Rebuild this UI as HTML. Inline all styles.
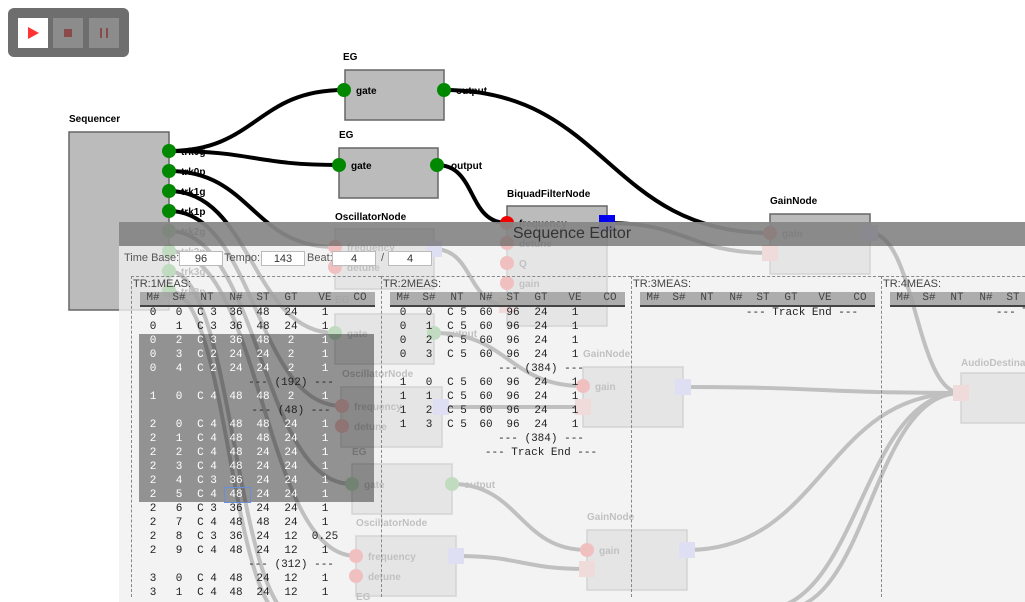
<!DOCTYPE html>
<html><head><meta charset="utf-8">
<style>
html,body{margin:0;padding:0;width:1025px;height:602px;overflow:hidden;background:#fff;font-family:"Liberation Sans",sans-serif;}
#g{position:absolute;left:0;top:0}
#ed{position:absolute;left:119px;top:222px;width:906px;height:380px;background:rgba(240,240,240,0.8);overflow:hidden}
#tb{position:absolute;left:0;top:0;width:906px;height:24px;background:rgba(100,100,100,0.7);color:#333;font-size:16px;text-align:center;line-height:24px}
.lbl{position:absolute;font-size:11px;color:#555;top:30px}
.inp{position:absolute;top:29px;height:15px;border:1px solid #bbb;background:#fff;font-size:11px;color:#333;text-align:center;line-height:15px;box-sizing:border-box}
.trk{position:absolute;top:54px;height:320px;border-left:1px dashed #888;border-top:1px dashed #888}
.tname{position:absolute;left:1px;top:1px;font-size:11px;color:#444}
.hdr{position:absolute;left:8px;top:15px;width:235px;height:13px;background:rgba(160,160,160,0.85);border-bottom:2px solid #444;font-family:"Liberation Mono",monospace;font-size:11px;color:#444;line-height:13px}
.row{position:absolute;left:8px;width:235px;height:14px;font-family:"Liberation Mono",monospace;font-size:11px;color:#222;line-height:14px}
.row span,.hdr span{position:absolute;top:0;text-align:center;white-space:pre}
.sep{position:absolute;width:160px;text-align:center;font-family:"Liberation Mono",monospace;font-size:11px;color:#222;white-space:pre;line-height:14px}
#sel{position:absolute;left:20px;top:112px;width:235px;height:168px;background:rgba(0,0,0,0.4)}
#ctl{position:absolute;left:8px;top:8px;width:121px;height:49px;background:#6e6e6e;border-radius:6px}
.b{position:absolute;top:10px;width:30px;height:30px;background:#8c8c8c}
</style></head><body>
<svg id="g" width="1025" height="602" xmlns="http://www.w3.org/2000/svg"></svg>
<div id="ctl">
 <div class="b" style="left:10px;background:#fff"><svg width="30" height="30"><polygon points="10,9 21,15 10,21" fill="#f33"/></svg></div>
 <div class="b" style="left:45px"><svg width="30" height="30"><rect x="11" y="11" width="8" height="8" fill="#8a4a4a"/></svg></div>
 <div class="b" style="left:81px"><svg width="30" height="30"><rect x="11" y="10" width="2" height="10" fill="#8a4a4a"/><rect x="17" y="10" width="2" height="10" fill="#8a4a4a"/></svg></div>
</div>
<div id="ed">
 <div id="tb">Sequence Editor</div>
 <div class="lbl" style="left:5px">Time Base:</div><div class="inp" style="left:60px;width:44px">96</div>
 <div class="lbl" style="left:105px">Tempo:</div><div class="inp" style="left:142px;width:44px">143</div>
 <div class="lbl" style="left:188px">Beat:</div><div class="inp" style="left:213px;width:44px">4</div>
 <div class="lbl" style="left:262px">/</div><div class="inp" style="left:269px;width:44px">4</div>
 <div id="tracks"></div>
</div>
<script>
var S='http://www.w3.org/2000/svg',g=document.getElementById('g');
function el(n,a,p){var e=document.createElementNS(S,n);for(var k in a)e.setAttribute(k,a[k]);(p||g).appendChild(e);return e;}
function txt(x,y,t,b){var e=el('text',{x:x,y:y,'font-size':10,'font-weight':'bold','font-family':'Liberation Sans, sans-serif',fill:'#000'});e.textContent=t;}
function node(lx,ly,t,x,y,w,h){txt(lx,ly,t);el('rect',{x:x,y:y,width:w,height:h,fill:'#bbb',stroke:'#666','stroke-width':1.5});}
function gp(x,y){el('circle',{cx:x,cy:y,r:7,fill:'#080'});}
function rp(x,y){el('circle',{cx:x,cy:y,r:7,fill:'#e00'});}
function sq(x,y,c){el('rect',{x:x-8,y:y-8,width:16,height:16,fill:c||'#e88'});}
function ln(x1,y1,x2,y2){var d=Math.max(40,Math.abs(x2-x1)/2);el('path',{d:'M'+x1+' '+y1+' C'+(x1+d)+' '+y1+','+(x2-d)+' '+y2+','+x2+' '+y2,stroke:'#000','stroke-width':4,fill:'none'});}
node(69,122,'Sequencer',69,132,100,178);
node(343,60,'EG',345,70,99,50);
node(339,138,'EG',339,148,99,50);
node(507,197,'BiquadFilterNode',507,206,100,120);
node(335,220,'OscillatorNode',335,229,99,60);
node(335,303,'EG',335,314,99,50);
node(342,377,'OscillatorNode',341,387,101,60);
node(352,455,'EG',352,464,100,50);
node(356,526,'OscillatorNode',356,536,100,60);
txt(356,600,'EG');
node(583,357,'GainNode',583,367,100,60);
node(587,520,'GainNode',587,530,100,60);
node(770,204,'GainNode',770,214,100,60);
node(961,366,'AudioDestinationNode',961,373,100,50);
ln(169,151,344,90);ln(169,151,339,165);ln(169,171,335,247);ln(169,191,335,333);
ln(169,211,342,406);ln(169,231,352,484);ln(169,251,356,556);ln(169,271,300,620);ln(169,291,290,620);
ln(444,90,770,233);ln(437,165,507,223);ln(607,223,770,253);ln(434,249,507,305);
ln(434,333,583,386);ln(434,407,583,407);ln(683,387,961,393);ln(452,484,587,550);
ln(456,556,587,569);ln(687,550,961,393);ln(870,233,961,393);ln(760,610,961,393);ln(780,610,961,393);
var tl=['trk0g','trk0p','trk1g','trk1p','trk2g','trk2p','trk3g','trk3p'];
for(var i=0;i<8;i++){gp(169,151+20*i);txt(181,155+20*i,tl[i]);}
gp(344,90);txt(356,94,'gate');gp(444,90);txt(456,94,'output');
gp(339,165);txt(351,169,'gate');gp(437,165);txt(451,169,'output');
rp(507,223);txt(519,227,'frequency');rp(507,243);txt(519,247,'detune');rp(507,263);txt(519,267,'Q');rp(507,283);txt(519,287,'gain');sq(507,305);sq(607,223,'#00e');
rp(335,247);txt(347,251,'frequency');rp(335,267);txt(347,271,'detune');sq(434,249,'#99f');
gp(335,333);txt(347,337,'gate');gp(434,333);txt(446,337,'output');
rp(342,406);txt(354,410,'frequency');rp(342,426);txt(354,430,'detune');sq(441,407,'#99f');
gp(352,484);txt(364,488,'gate');gp(452,484);txt(464,488,'output');
rp(356,556);txt(368,560,'frequency');rp(356,576);txt(368,580,'detune');sq(456,556,'#99f');
rp(583,386);txt(595,390,'gain');sq(583,407);sq(683,387,'#99f');
rp(587,550);txt(599,554,'gain');sq(587,569);sq(687,550,'#99f');
rp(770,233);txt(782,237,'gain');sq(770,253);sq(870,233,'#99f');
sq(961,393);
var W=[26,26,30,28,26,30,38,32],H=['M#','S#','NT','N#','ST','GT','VE','CO'];
function cells(v){var s='',x=0;for(var i=0;i<8;i++){s+='<span style="left:'+x+'px;width:'+W[i]+'px">'+(v[i]||'')+'</span>';x+=W[i];}return s;}
var T=document.getElementById('tracks'),out='<div id="sel"></div>';
var d1=[['0','0','C 3','36','48','24','1'],['0','1','C 3','36','48','24','1'],['0','2','C 3','36','48','2','1'],['0','3','C 2','24','24','2','1'],['0','4','C 2','24','24','2','1'],'--- (192) ---',['1','0','C 4','48','48','2','1'],'--- (48) ---',
['2','0','C 4','48','48','24','1'],['2','1','C 4','48','48','24','1'],['2','2','C 4','48','24','24','1'],['2','3','C 4','48','24','24','1'],['2','4','C 3','36','24','24','1'],['2','5','C 4','48','24','24','1'],['2','6','C 3','36','24','24','1'],['2','7','C 4','48','48','24','1'],['2','8','C 3','36','24','12','0.25'],['2','9','C 4','48','24','12','1'],'--- (312) ---',['3','0','C 4','48','24','12','1'],['3','1','C 4','48','24','12','1']];
var d2=[['0','0','C 5','60','96','24','1'],['0','1','C 5','60','96','24','1'],['0','2','C 5','60','96','24','1'],['0','3','C 5','60','96','24','1'],'--- (384) ---',['1','0','C 5','60','96','24','1'],['1','1','C 5','60','96','24','1'],['1','2','C 5','60','96','24','1'],['1','3','C 5','60','96','24','1'],'--- (384) ---','--- Track End ---'];
var d3=['--- Track End ---'];
var data=[d1,d2,d3,d3];
for(var t=0;t<4;t++){
 var L=12+250*t;
 out+='<div class="trk" style="left:'+L+'px;width:249px"><div class="tname">TR:'+(t+1)+'MEAS:</div><div class="hdr">'+cells(H)+'</div>';
 var rows=data[t];
 for(var r=0;r<rows.length;r++){var y=29+14*r;
  if(typeof rows[r]=='string'){var c=(t<2?151:162);out+='<div class="sep" style="left:'+(8+c-80)+'px;top:'+y+'px">'+rows[r]+'</div>';}
  else{var col=(t==0&&r>=2&&r<=13)?'#fff':'#222';out+='<div class="row" style="top:'+y+'px;color:'+col+'">'+cells(rows[r])+'</div>';}
 }
 out+='</div>';
}
out+='<div style="position:absolute;left:105px;top:265px;width:25px;height:14px;border:1px solid #6a8fd8"></div>';
T.innerHTML=out;
</script>
</body></html>
